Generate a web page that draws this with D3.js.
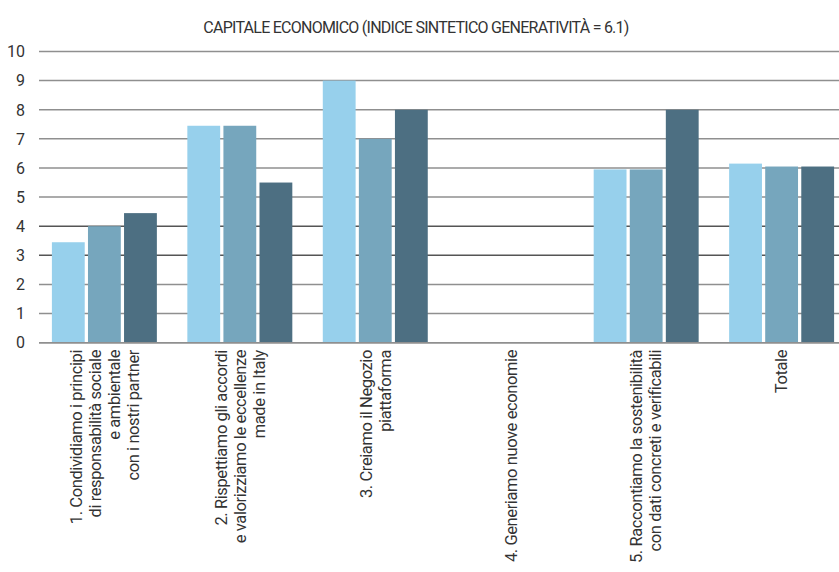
<!DOCTYPE html>
<html>
<head>
<meta charset="utf-8">
<script src="https://cdn.jsdelivr.net/npm/d3@7"></script>
<style>
  body { margin: 0; background: #fff; }
  svg { display: block; font-family: Roboto, "Noto Sans", sans-serif; }
</style>
</head>
<body>
<svg id="chart" width="839" height="572"></svg>
<script>
// Categories (label lines as printed under each group)
const categories = [
  ["1. Condividiamo i principi", "di responsabilità sociale", "e ambientale", "con i nostri partner"],
  ["2. Rispettiamo gli accordi", "e valorizziamo le eccellenze", "made in Italy"],
  ["3. Creiamo il Negozio", "piattaforma"],
  ["4. Generiamo nuove economie"],
  ["5. Raccontiamo la sostenibilità", "con dati concreti e verificabili"],
  ["Totale"]
];
const seriesA = [3.45, 7.45, 9.0, 0, 5.95, 6.15];
const seriesB = [4.0, 7.45, 7.0, 0, 5.95, 6.05];
const seriesC = [4.45, 5.5, 8.0, 0, 8.0, 6.05];
const yTicks = [0, 1, 2, 3, 4, 5, 6, 7, 8, 9, 10];
const title = "CAPITALE ECONOMICO (INDICE SINTETICO GENERATIVITÀ = 6.1)";

const series = [seriesA, seriesB, seriesC];
const colors = ["#97d0ec", "#76a6bd", "#4d6f82"];

const svg = d3.select("#chart");
const gridLeft = 39, gridRight = 839;

const y = d3.scaleLinear().domain([0, 10]).range([342.7, 51.5]);
const x0 = d3.scaleBand().domain(d3.range(categories.length)).range([37, 849]).paddingInner(0.225).paddingOuter(0.11);
const x1 = d3.scaleBand().domain(d3.range(series.length)).range([0, x0.bandwidth()]).paddingInner(0.09);

// title
svg.append("text")
  .attr("x", 416).attr("y", 33)
  .attr("text-anchor", "middle")
  .attr("font-size", 16)
  .attr("letter-spacing", -0.75)
  .attr("fill", "#333")
  .text(title);

// horizontal grid + y labels
const yAxis = svg.append("g");
yAxis.selectAll("line").data(yTicks).join("line")
  .attr("x1", gridLeft).attr("x2", gridRight)
  .attr("y1", d => y(d)).attr("y2", d => y(d))
  .attr("stroke", d => (d === 3 || d === 4) ? "#555" : "#8f8f8f")
  .attr("stroke-width", 1.5);
yAxis.selectAll("text").data(yTicks).join("text")
  .attr("x", 25).attr("y", d => y(d))
  .attr("dy", "0.36em")
  .attr("text-anchor", "end")
  .attr("font-size", 16)
  .attr("fill", "#333")
  .text(d => d);

// bars
const groups = svg.append("g").selectAll("g").data(categories).join("g")
  .attr("transform", (d, i) => `translate(${x0(i)},0)`);
groups.selectAll("rect")
  .data((d, i) => series.map((s, k) => ({ k, v: s[i] })))
  .join("rect")
  .attr("x", d => x1(d.k))
  .attr("width", x1.bandwidth())
  .attr("y", d => y(d.v))
  .attr("height", d => y(0) - y(d.v))
  .attr("fill", d => colors[d.k]);

// baseline
svg.append("line")
  .attr("x1", gridLeft).attr("x2", gridRight)
  .attr("y1", y(0)).attr("y2", y(0))
  .attr("stroke", "#8f8f8f").attr("stroke-width", 1.5);

// rotated category labels
const lineGap = 19;
const labels = svg.append("g").selectAll("text").data(categories).join("text")
  .attr("font-size", 16.5)
  .attr("fill", "#333")
  .attr("text-anchor", "end")
  .attr("transform", (d, i) => {
    const cx = x0(i) + x0.bandwidth() / 2;
    return `translate(${cx},350) rotate(-90)`;
  });
labels.selectAll("tspan").data(d => d.map((t, j) => ({ t, j, n: d.length }))).join("tspan")
  .attr("x", 0)
  .attr("y", d => (d.j - (d.n - 1) / 2) * lineGap)
  .attr("dy", "0.35em")
  .attr("letter-spacing", -0.4)
  .text(d => d.t);
</script>
</body>
</html>
